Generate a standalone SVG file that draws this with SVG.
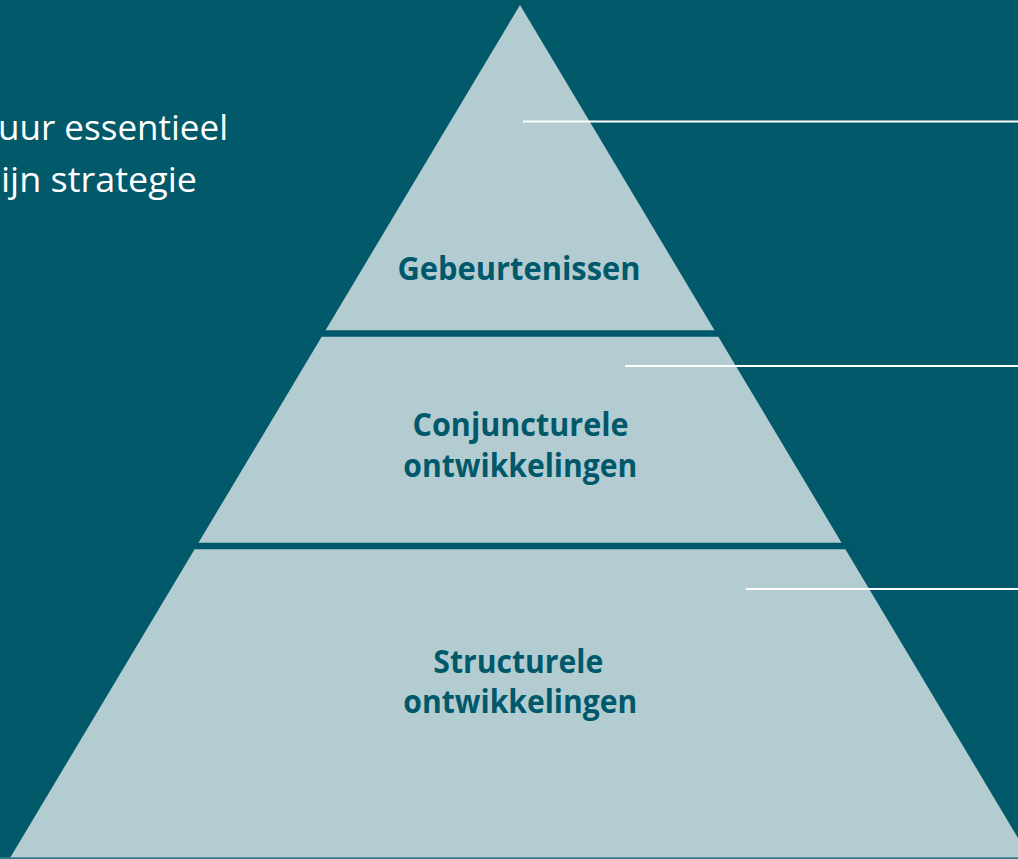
<svg xmlns="http://www.w3.org/2000/svg" width="1018" height="859" viewBox="0 0 1018 859">
  <style>
    .lbl { font-family: "Open Sans", "Liberation Sans", sans-serif; font-weight: bold; font-size: 32px; fill: #00596A; text-anchor: middle; }
    .intro { font-family: "Open Sans", "Liberation Sans", sans-serif; font-size: 34.5px; fill: #FFFFFF; }
    .sep { stroke: #00566A; stroke-width: 6.5; stroke-linecap: round; }
    .lead { stroke: #FFFFFF; stroke-width: 2; }
  </style>
  <rect x="0" y="0" width="1018" height="859" fill="#01596A"/>
  <g id="intro">
    <text class="intro" x="-2" y="140" textLength="230" lengthAdjust="spacingAndGlyphs">uur essentieel</text>
    <text class="intro" x="1" y="192" textLength="196" lengthAdjust="spacingAndGlyphs">ijn strategie</text>
  </g>
  <g id="pyramid">
    <polygon points="520,5 10,858 1030,858" fill="#B3CCD2"/>
    <line x1="0" y1="858" x2="1018" y2="858" stroke="#3F8090" stroke-width="1.5"/>
  </g>
  <g id="connectors">
    <line class="sep" x1="320" y1="333.5" x2="722" y2="333.5"/>
    <line class="sep" x1="196" y1="546" x2="855" y2="546"/>
    <line class="lead" x1="523" y1="121.5" x2="1018" y2="121.5"/>
    <line class="lead" x1="625" y1="366" x2="1018" y2="366"/>
    <line class="lead" x1="746" y1="589" x2="1018" y2="589"/>
  </g>
  <g id="node-gebeurtenissen">
    <text class="lbl" x="519" y="279.5" textLength="243" lengthAdjust="spacingAndGlyphs">Gebeurtenissen</text>
  </g>
  <g id="node-conjuncturele">
    <text class="lbl" x="520.5" y="436" textLength="216" lengthAdjust="spacingAndGlyphs">Conjuncturele</text>
    <text class="lbl" x="520.3" y="477" textLength="234" lengthAdjust="spacingAndGlyphs">ontwikkelingen</text>
  </g>
  <g id="node-structurele">
    <text class="lbl" x="518.3" y="673" textLength="170" lengthAdjust="spacingAndGlyphs">Structurele</text>
    <text class="lbl" x="520.3" y="713" textLength="234" lengthAdjust="spacingAndGlyphs">ontwikkelingen</text>
  </g>
</svg>
